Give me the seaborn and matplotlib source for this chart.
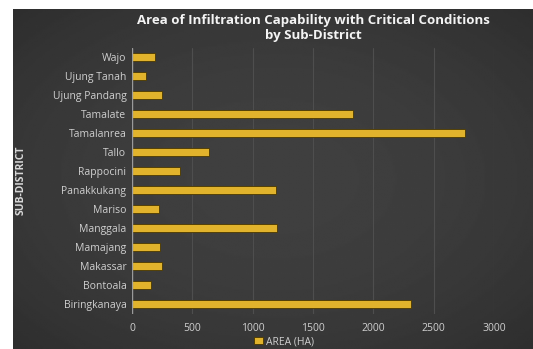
import matplotlib
matplotlib.use("Agg")
import matplotlib.pyplot as plt
import numpy as np
import pandas as pd
import seaborn as sns

districts = ["Wajo", "Ujung Tanah", "Ujung Pandang", "Tamalate", "Tamalanrea", "Tallo",
             "Rappocini", "Panakkukang", "Mariso", "Manggala", "Mamajang", "Makassar",
             "Bontoala", "Biringkanaya"]
area_ha = [190, 120, 245, 1830, 2760, 634, 400, 1195, 220, 1205, 235, 245, 160, 2310]

df = pd.DataFrame({"SUB-DISTRICT": districts, "AREA (HA)": area_ha})

sns.set_theme(style="dark")
plt.rcParams['font.family'] = ['Open Sans', 'DejaVu Sans']

fig = plt.figure(figsize=(5.33, 3.49), dpi=100, facecolor="white")

# dark background panel with soft vignette
bg = fig.add_axes([13 / 533, 0, 520 / 533, 340 / 349])
yy, xx = np.mgrid[-1:1:200j, -1:1:300j]
shade = 0.25 - 0.07 * (xx ** 2 + yy ** 2) / 2
bg.imshow(shade, cmap="gray", vmin=0, vmax=1, aspect="auto", extent=[0, 1, 0, 1])
bg.set_axis_off()

ax = fig.add_axes([132 / 533, 35.5 / 349, (494 - 132) / 533, 266 / 349])
ax.patch.set_alpha(0)
sns.barplot(data=df, y="SUB-DISTRICT", x="AREA (HA)", color="#ffc20e",
            edgecolor="#4a3800", linewidth=0.6, width=0.45, ax=ax,
            label="AREA (HA)", zorder=3)

ax.set_xlim(0, 3000)
ax.set_xticks([0, 500, 1000, 1500, 2000, 2500, 3000])
ax.grid(axis="x", color="#4e4e4e", linewidth=0.8, zorder=0)
ax.grid(axis="y", visible=False)
for s in ax.spines.values():
    s.set_visible(False)
ax.axvline(0, color="#9a9a9a", linewidth=1, zorder=4)
ax.tick_params(axis="both", colors="#cfcfcf", labelsize=7.5, length=0, pad=4)
for t in ax.get_xticklabels() + ax.get_yticklabels():
    t.set_color("#cfcfcf")
ax.tick_params(axis="x", pad=7)
ax.set_xlabel("")
ax.set_ylabel("SUB-DISTRICT", color="#d8d8d8", fontsize=7.5, fontweight="bold")
ax.yaxis.set_label_coords(-0.29, 0.5)

ax.set_title("Area of Infiltration Capability with Critical Conditions\nby Sub-District",
             color="#f4f4f4", fontsize=9.5, fontweight="bold", pad=6, linespacing=1.2,
             x=0.5)

leg = ax.legend(loc="upper center", bbox_to_anchor=(0.42, -0.085), frameon=False,
                fontsize=7.5, handlelength=0.8, handleheight=0.8, handletextpad=0.3,
                borderpad=0, borderaxespad=0)
for t in leg.get_texts():
    t.set_color("#cfcfcf")

fig.savefig("out.png", dpi=100, facecolor="white")
